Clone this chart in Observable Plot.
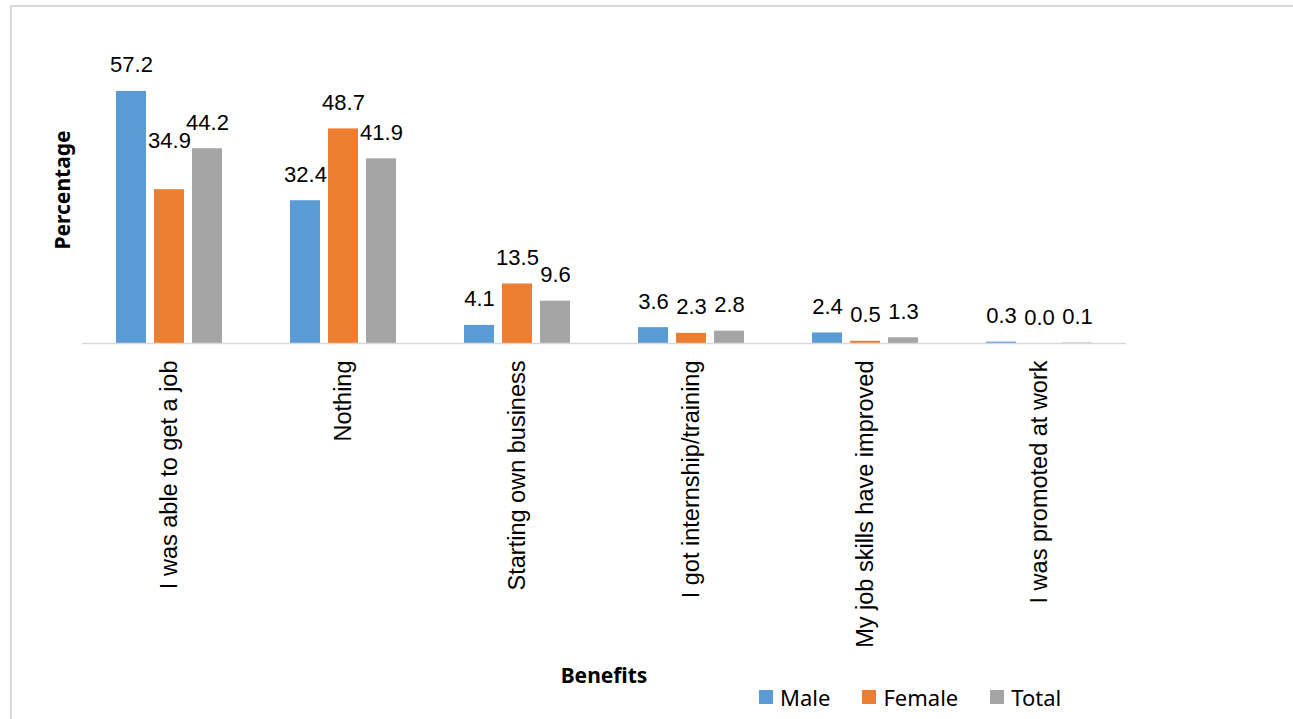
<!DOCTYPE html>
<html>
<head>
<meta charset="utf-8">
<script src="https://cdn.jsdelivr.net/npm/d3@7"></script>
<script src="https://cdn.jsdelivr.net/npm/@observablehq/plot@0.6"></script>
<style>
  html, body { margin: 0; padding: 0; background: #fff; overflow: hidden; }
  #page { position: relative; width: 1293px; height: 719px; }
  #frame { position: absolute; left: 10px; top: 5px; width: 1300px; height: 740px;
           border: 2px solid #d9d9d9; box-sizing: border-box; pointer-events: none; }
  #chart svg { display: block; }
  #legend { display: flex; align-items: center; gap: 32px; padding-left: 759px;
            height: 24px; margin-top: -3px; font: 22px "Noto Sans", sans-serif; color: #000; }
  #legend .item { display: flex; align-items: center; gap: 7px; }
  #legend .swatch { width: 14px; height: 14px; }
</style>
</head>
<body>
<div id="page">
  <div id="chart"></div>
  <div id="legend"></div>
  <div id="frame"></div>
</div>
<script>
// Benefits reported, by sex (percentage of respondents)
const categories = [
  "I was able to get a job",
  "Nothing",
  "Starting own business",
  "I got internship/training",
  "My job skills have improved",
  "I was promoted at work"
];
const seriesNames = ["Male", "Female", "Total"];
const male   = [57.2, 32.4, 4.1, 3.6, 2.4, 0.3];
const female = [34.9, 48.7, 13.5, 2.3, 0.5, 0.0];
const total  = [44.2, 41.9, 9.6, 2.8, 1.3, 0.1];
const seriesColors = ["#5B9BD5", "#ED7D31", "#A5A5A5"];

// Long-format table for the grouped bars
const seriesValues = [male, female, total];
const rows = categories.flatMap((category, i) =>
  seriesNames.map((series, j) => ({ category, series, value: seriesValues[j][i] }))
);

// One label sits higher than the rest so it clears its neighbour
const lifted = d => d.category === categories[0] && d.series === "Female";

const labelStyle = {
  fx: "category", x: "series", y: "value",
  text: d => d.value.toFixed(1),
  fontSize: 22, fill: "#000", fontFamily: "Liberation Sans, Arial, sans-serif"
};

const chart = Plot.plot({
  width: 1293,
  height: 688,
  marginLeft: 80,
  marginRight: 166,
  marginTop: 0,
  marginBottom: 345,
  fx: { domain: categories, padding: 0, label: null },
  x: { domain: seriesNames, paddingInner: 0.2, paddingOuter: 0.87, axis: null },
  y: { domain: [0, 60], range: [343, 78.6], axis: null },
  color: { domain: seriesNames, range: seriesColors },
  style: { fontFamily: "Liberation Sans, Arial, sans-serif", background: "transparent", color: "#000" },
  marks: [
    Plot.barY(rows, { fx: "category", x: "series", y: "value", fill: "series" }),
    Plot.ruleY([0], { stroke: "#d9d9d9", strokeWidth: 1.5 }),
    Plot.text(rows.filter(d => !lifted(d)), { ...labelStyle, dy: -26 }),
    Plot.text(rows.filter(lifted), { ...labelStyle, dy: -49 }),
    Plot.axisFx({
      anchor: "bottom", tickRotate: -90, tickSize: 0, tickPadding: 17,
      fontSize: 23.5, label: null
    })
  ]
});
document.getElementById("chart").append(chart);

// Axis titles
const svg = d3.select(chart);
svg.append("text")
  .attr("transform", "translate(70,190) rotate(-90)")
  .attr("text-anchor", "middle")
  .style("font", "bold 21px 'Noto Sans', sans-serif")
  .attr("fill", "#000")
  .text("Percentage");
svg.append("text")
  .attr("x", 604).attr("y", 683)
  .attr("text-anchor", "middle")
  .style("font", "bold 21px 'Noto Sans', sans-serif")
  .attr("fill", "#000")
  .text("Benefits");

// Legend
const legend = d3.select("#legend");
seriesNames.forEach((name, i) => {
  const item = legend.append("div").attr("class", "item");
  item.append("div").attr("class", "swatch").style("background", seriesColors[i]);
  item.append("span").text(name);
});
</script>
</body>
</html>
